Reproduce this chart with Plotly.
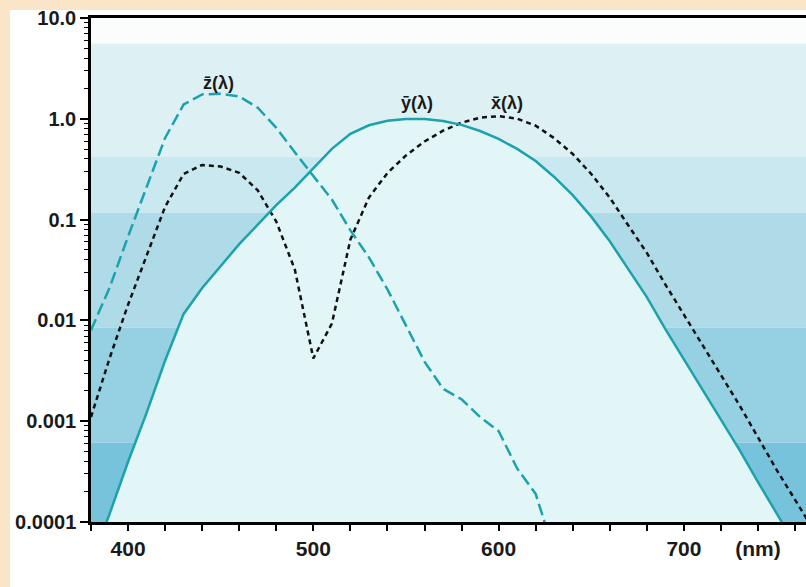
import math
import plotly.graph_objects as go

# ---- data ----
wavelength = [380, 390, 400, 410, 420, 430, 440, 450, 460, 470, 480, 490, 500,
              510, 520, 530, 540, 550, 560, 570, 580, 590, 600, 610, 620, 630,
              640, 650, 660, 670, 680, 690, 700, 710, 720, 730, 740, 750, 760,
              770, 780]
x_bar = [0.0011, 0.0042, 0.0143, 0.0435, 0.134, 0.284, 0.348, 0.336, 0.291, 0.195,
         0.0956, 0.032, 0.0042, 0.0093, 0.0633, 0.1655, 0.290, 0.433, 0.595, 0.762,
         0.916, 1.026, 1.062, 1.003, 0.854, 0.642, 0.448, 0.2835, 0.165, 0.0874,
         0.0468, 0.0227, 0.0114, 0.0058, 0.0029, 0.00144, 0.00069, 0.00033,
         0.000166, 0.000083, 0.000042]
y_bar = [0.000039, 0.00012, 0.000396, 0.00121, 0.004, 0.0116, 0.021, 0.035, 0.057,
         0.089, 0.139, 0.208, 0.323, 0.503, 0.71, 0.862, 0.954, 0.995, 0.995, 0.952,
         0.870, 0.757, 0.631, 0.503, 0.381, 0.265, 0.175, 0.107, 0.061, 0.032,
         0.017, 0.00821, 0.0041, 0.00209, 0.00105, 0.00052, 0.000249, 0.00012,
         0.00006, 0.00003, 0.000015]
z_wavelength = [380, 390, 400, 410, 420, 430, 440, 450, 460, 470, 480, 490, 500,
                510, 520, 530, 540, 550, 560, 570, 580, 590, 600, 610, 620, 630]
z_bar = [0.008, 0.021, 0.068, 0.207, 0.646, 1.386, 1.747, 1.772, 1.669, 1.288,
         0.813, 0.465, 0.272, 0.158, 0.0782, 0.0422, 0.0203, 0.00875, 0.0039,
         0.0021, 0.00165, 0.0011, 0.0008, 0.00034, 0.00019, 0.00005]

y_tick_values = [0.0001, 0.001, 0.01, 0.1, 1.0, 10.0]
y_tick_labels = ["0.0001", "0.001", "0.01", "0.1", "1.0", "10.0"]
x_tick_values = [380, 400, 420, 440, 460, 480, 500, 520, 540, 560, 580, 600,
                 620, 640, 660, 680, 700, 720, 740, 760]
x_tick_labels = ["", "400", "", "", "", "", "500", "", "", "", "", "600",
                 "", "", "", "", "700", "", "(nm)", ""]

band_edges = [10.0, 5.6, 0.42, 0.117, 0.0085, 0.00061, 0.0001]
band_colors = ["#fbfdfd", "#ddf1f5", "#c9e8f0", "#afdbe9", "#96d0e3", "#78c3dc"]

curve_labels = ["z\u0304(\u03bb)", "y\u0304(\u03bb)", "x\u0304(\u03bb)"]
curve_label_x = [448.6, 556, 604.5]
curve_label_y = [2.27, 1.44, 1.44]

TEAL = "#1ba2ac"
FONT = "Liberation Sans, Arial, sans-serif"

fig = go.Figure()

# light fill under the y-bar curve
fig.add_trace(go.Scatter(
    x=wavelength + wavelength[::-1],
    y=y_bar + [1e-7] * len(wavelength),
    fill="toself", fillcolor="#e2f5f7", line=dict(width=0),
    mode="lines", hoverinfo="skip", showlegend=False))

fig.add_trace(go.Scatter(x=z_wavelength, y=z_bar, mode="lines",
                         line=dict(color=TEAL, width=2.5, dash="12px,5px"),
                         showlegend=False))
fig.add_trace(go.Scatter(x=wavelength, y=x_bar, mode="lines",
                         line=dict(color="#111111", width=2.5, dash="5px,4px"),
                         showlegend=False))
fig.add_trace(go.Scatter(x=wavelength, y=y_bar, mode="lines",
                         line=dict(color=TEAL, width=2.5),
                         showlegend=False))

shapes = []
# white panel on peach background
shapes.append(dict(type="rect", xref="paper", yref="paper",
                   x0=-0.1133, x1=1.2, y0=-0.2, y1=1.0159,
                   fillcolor="white", line=dict(width=0), layer="below"))


def to_dom(v):
    return (math.log10(v) + 4) / 5.0


for top, bot, col in zip(band_edges[:-1], band_edges[1:], band_colors):
    shapes.append(dict(type="rect", xref="x domain", yref="y domain",
                       x0=0, x1=1, y0=to_dom(bot), y1=to_dom(top),
                       fillcolor=col, line=dict(width=0), layer="below"))

annotations = []
for txt, xx, yy in zip(curve_labels, curve_label_x, curve_label_y):
    annotations.append(dict(x=xx, y=math.log10(yy), xref="x", yref="y",
                            text="<b>" + txt + "</b>", showarrow=False,
                            font=dict(family=FONT, size=18, color="#1a1a1a")))

fig.update_layout(
    width=806, height=587,
    margin=dict(l=91, r=0, t=18, b=65),
    paper_bgcolor="#fae5c8", plot_bgcolor="white",
    shapes=shapes, annotations=annotations,
    showlegend=False,
)
fig.update_xaxes(range=[380, 765.9], showgrid=False, zeroline=False,
                 showline=True, linecolor="black", linewidth=2.5, mirror=True,
                 ticks="outside", ticklen=6, tickwidth=2, tickcolor="black",
                 tickvals=x_tick_values, ticktext=x_tick_labels,
                 tickfont=dict(family=FONT, size=21, color="#1a1a1a", weight="bold"))
fig.update_yaxes(type="log", range=[-4, 1], showgrid=False, zeroline=False,
                 showline=True, linecolor="black", linewidth=2.5,
                 ticks="outside", ticklen=8, tickwidth=2, tickcolor="black",
                 tickvals=y_tick_values, ticktext=y_tick_labels,
                 tickfont=dict(family=FONT, size=20, color="#1a1a1a", weight="bold"),
                 minor=dict(ticks="outside", ticklen=4, tickwidth=1.2,
                            tickcolor="black", dtick="D1", showgrid=False))

fig.write_html("out.html",
               config={"displayModeBar": False},
               post_script="document.body.style.margin='0';"
                           "document.body.style.padding='0';"
                           "document.body.style.overflow='hidden';")
